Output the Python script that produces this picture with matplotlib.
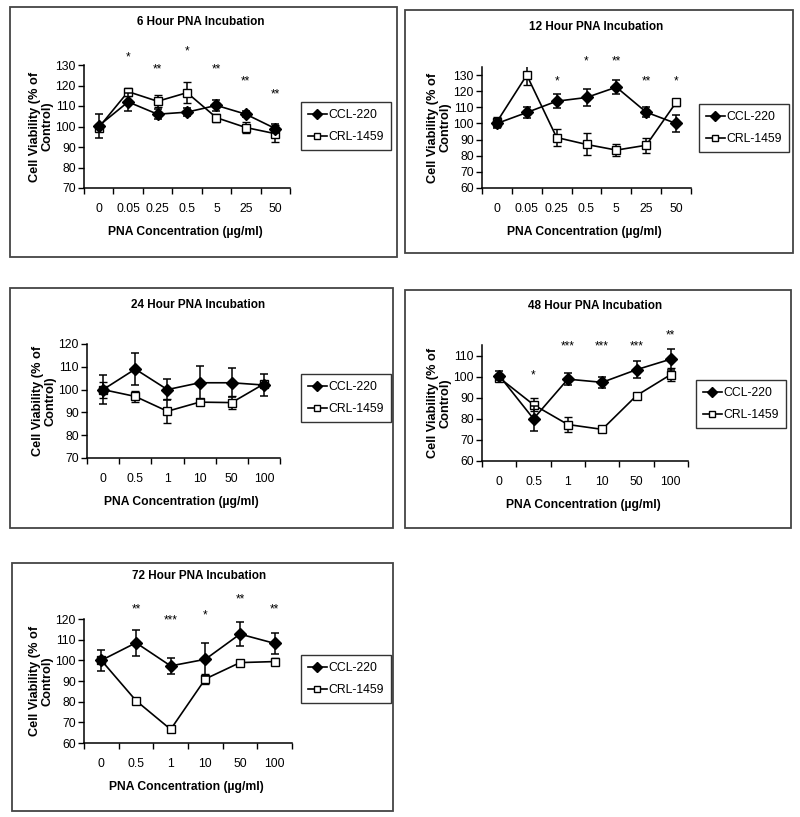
import numpy as np
import matplotlib
matplotlib.use("Agg")
from matplotlib import pyplot as plt
from matplotlib.patches import Rectangle
from matplotlib.lines import Line2D

plt.rcParams['font.family'] = ['Liberation Sans', 'DejaVu Sans']

W, H = 800, 817

# ---- data ----
hours = ["6", "12", "24", "48", "72"]

conc_short = ["0", "0.05", "0.25", "0.5", "5", "25", "50"]
conc_long = ["0", "0.5", "1", "10", "50", "100"]

ccl_6 = [100.3, 112, 106, 107, 110.3, 106, 99]
ccl_6_err = [5.7, 4.5, 2.5, 2, 2.5, 1.5, 2]
crl_6 = [99.5, 117, 112.3, 116.5, 104.3, 99.5, 96.5]
crl_6_err = [1, 2, 3, 5, 2, 2.5, 4]
stars_6 = ["", "*", "**", "*", "**", "**", "**"]
stars_6_y = [0, 133.6, 127.6, 136.5, 127.6, 122.2, 115.7]

ccl_12 = [100, 106.8, 113.8, 116.1, 122.5, 107, 100]
ccl_12_err = [3, 3.6, 4.2, 5.2, 4.5, 3, 5]
crl_12 = [101, 130, 91.3, 87, 83.5, 86.5, 113]
crl_12_err = [3, 6, 5.4, 6.8, 3.5, 4.5, 2]
stars_12 = ["", "", "*", "*", "**", "**", "*"]
stars_12_y = [0, 0, 126.3, 138.7, 138.7, 126.3, 126.3]

ccl_24 = [100, 109, 100, 103, 103, 102]
ccl_24_err = [6.5, 7.1, 4.5, 7.3, 6.3, 4.8]
crl_24 = [100, 97, 90.5, 94.5, 94.3, 102.5]
crl_24_err = [3.5, 2.5, 5.2, 1, 3, 1]
stars_24 = ["", "", "", "", "", ""]
stars_24_y = [0, 0, 0, 0, 0, 0]

ccl_48 = [100.5, 80, 98.8, 97.3, 103.3, 108.3]
ccl_48_err = [2, 6, 3, 2.5, 4, 5]
crl_48 = [99.5, 86.7, 77.3, 75, 91, 101]
crl_48_err = [1.5, 3.2, 3.5, 1, 1, 3]
stars_48 = ["", "*", "***", "***", "***", "**"]
stars_48_y = [0, 100.6, 114.5, 114.5, 114.5, 119.7]

ccl_72 = [100, 108.5, 97.3, 100.5, 112.7, 108.2]
ccl_72_err = [5, 6.4, 4, 8, 5.7, 4.9]
crl_72 = [100, 80.5, 66.6, 91, 98.9, 99.4]
crl_72_err = [1.5, 1.5, 1.5, 2.5, 1.5, 1.5]
stars_72 = ["", "**", "***", "*", "**", "**"]
stars_72_y = [0, 124.5, 119.4, 121.6, 129.3, 124.5]

# ---- layout, in reference pixels ----
panels = [
    dict(box=(10, 7, 397, 257), ax=(84, 65, 290, 188), ylim=(70, 130),
         leg=(346, 126), ty=22, cats=conc_short,
         ccl=ccl_6, ccl_err=ccl_6_err, crl=crl_6, crl_err=crl_6_err,
         stars=stars_6, stars_y=stars_6_y),
    dict(box=(405, 10, 793, 253), ax=(482, 67, 691, 188), ylim=(60, 135),
         leg=(744, 128), ty=27, cats=conc_short,
         ccl=ccl_12, ccl_err=ccl_12_err, crl=crl_12, crl_err=crl_12_err,
         stars=stars_12, stars_y=stars_12_y),
    dict(box=(10, 288, 393, 528), ax=(87, 344, 280, 458), ylim=(70, 120),
         leg=(346, 398), ty=305, cats=conc_long,
         ccl=ccl_24, ccl_err=ccl_24_err, crl=crl_24, crl_err=crl_24_err,
         stars=stars_24, stars_y=stars_24_y),
    dict(box=(405, 290, 791, 528), ax=(482, 345, 688, 461), ylim=(60, 115),
         leg=(741, 404), ty=306, cats=conc_long,
         ccl=ccl_48, ccl_err=ccl_48_err, crl=crl_48, crl_err=crl_48_err,
         stars=stars_48, stars_y=stars_48_y),
    dict(box=(12, 563, 393, 811), ax=(84, 619, 292, 743), ylim=(60, 120),
         leg=(346, 679), ty=576, cats=conc_long,
         ccl=ccl_72, ccl_err=ccl_72_err, crl=crl_72, crl_err=crl_72_err,
         stars=stars_72, stars_y=stars_72_y),
]


def fx(px):
    return px / W


def fy(py):
    return 1 - py / H


fig = plt.figure(figsize=(8.0, 8.17), dpi=100)

for hr, p in zip(hours, panels):
    bx0, by0, bx1, by1 = p["box"]
    fig.patches.append(Rectangle((fx(bx0), fy(by1)), fx(bx1) - fx(bx0), fy(by0) - fy(by1),
                                 transform=fig.transFigure, fill=False,
                                 edgecolor="#444444", lw=1.3))

    ax0, ay0, ax1, ay1 = p["ax"]
    ax = fig.add_axes([fx(ax0), fy(ay1), fx(ax1) - fx(ax0), fy(ay0) - fy(ay1)])
    n = len(p["cats"])
    x = np.arange(n)

    ax.errorbar(x, p["ccl"], yerr=p["ccl_err"], color="black", lw=1.2,
                marker="D", markersize=6, mfc="black", mec="black",
                capsize=3.2, elinewidth=1.1, capthick=1.1, zorder=3)
    ax.errorbar(x, p["crl"], yerr=p["crl_err"], color="black", lw=1.2,
                marker="s", markersize=6, mfc="white", mec="black", mew=1.0,
                capsize=3.2, elinewidth=1.1, capthick=1.1, zorder=2)

    for i, s in enumerate(p["stars"]):
        if s:
            ax.text(i, p["stars_y"][i], s, ha="center", va="center",
                    fontsize=8.5, clip_on=False)

    ax.set_xlim(-0.5, n - 0.5)
    ax.set_ylim(*p["ylim"])
    ax.set_yticks(np.arange(p["ylim"][0], p["ylim"][1] + 0.1, 10))
    ax.set_xticks(x)
    ax.set_xticklabels(p["cats"])
    ax.set_xticks(np.arange(n + 1) - 0.5, minor=True)
    ax.tick_params(axis="x", which="major", length=0, pad=11, labelsize=8.8)
    ax.tick_params(axis="x", which="minor", length=4, width=1, direction="out")
    ax.tick_params(axis="y", length=4, width=1, direction="out", pad=2, labelsize=8.8)
    for side in ["top", "right"]:
        ax.spines[side].set_visible(False)
    for side in ["left", "bottom"]:
        ax.spines[side].set_linewidth(1.1)

    fig.text(fx((bx0 + bx1) / 2 - 3), fy(p["ty"]), hr + " Hour PNA Incubation",
             ha="center", va="center", fontsize=8.5, fontweight="bold")
    fig.text(fx((ax0 + ax1) / 2 - 2), fy(ay1 + 44), "PNA Concentration (\u00b5g/ml)",
             ha="center", va="center", fontsize=8.7, fontweight="bold")
    fig.text(fx(ax0 - 43), fy((ay0 + ay1) / 2), "Cell Viability (% of\nControl)",
             ha="center", va="center", rotation=90, fontsize=9.2,
             fontweight="bold", linespacing=1.1)

    handles = [
        Line2D([], [], color="black", lw=1.2, marker="D", markersize=5.5,
               mfc="black", mec="black"),
        Line2D([], [], color="black", lw=1.2, marker="s", markersize=5,
               mfc="white", mec="black"),
    ]
    lx, ly = p["leg"]
    leg = fig.legend(handles, ["CCL-220", "CRL-1459"], loc="center",
                     bbox_to_anchor=(fx(lx), fy(ly)), bbox_transform=fig.transFigure,
                     fontsize=8.8, frameon=True, fancybox=False, edgecolor="black",
                     handlelength=1.5, handletextpad=0.15, borderpad=0.55,
                     labelspacing=0.85, borderaxespad=0)
    leg.get_frame().set_linewidth(1.0)

fig.savefig("out.png", dpi=100)
